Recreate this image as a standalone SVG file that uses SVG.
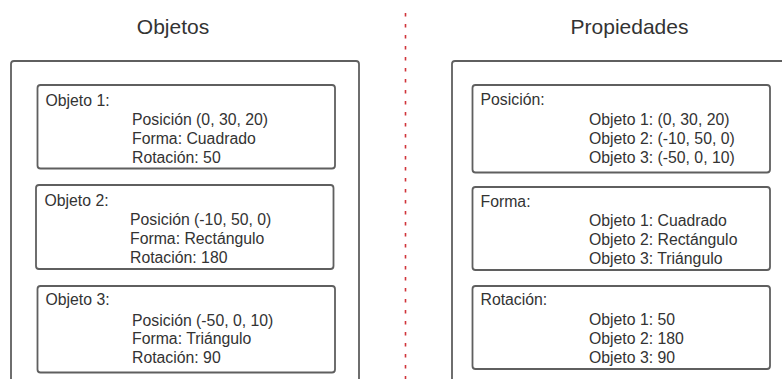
<svg xmlns="http://www.w3.org/2000/svg" width="782" height="379" viewBox="0 0 782 379">
<style>
.box{fill:#fff;stroke:#5f5f5f;stroke-width:1.8}
.outer{fill:none;stroke:#5f5f5f;stroke-width:1.8}
text{font-family:"Liberation Sans",Arial,sans-serif;fill:#333}
.t{font-size:15.8px}
.h{font-size:21px}
.sep{stroke:#d0343a;stroke-width:1.6;stroke-dasharray:3.5 7.5;fill:none}
</style>
<rect width="782" height="379" fill="#fff"/>
<g id="separator"><line class="sep" x1="405.5" y1="13" x2="405.5" y2="379"/></g>
<g id="title-objetos"><text class="h" x="173" y="34" text-anchor="middle">Objetos</text></g>
<g id="title-propiedades"><text class="h" x="629.5" y="34" text-anchor="middle">Propiedades</text></g>
<g id="panel-objetos"><path class="outer" d="M11,395 L11,64 Q11,61 14,61 L356,61 Q359,61 359,64 L359,395"/></g>
<g id="panel-propiedades"><path class="outer" d="M452,395 L452,64 Q452,61 455,61 L790,61"/></g>
<g id="objeto1">
<rect class="box" x="37.5" y="85" width="297.5" height="83.5" rx="3"/>
<text class="t" x="45.5" y="105.5">Objeto 1:</text>
<text class="t" x="132" y="124.5">Posición (0, 30, 20)</text>
<text class="t" x="132" y="143.5">Forma: Cuadrado</text>
<text class="t" x="132" y="162.5">Rotación: 50</text>
</g>
<g id="objeto2">
<rect class="box" x="36" y="185" width="297.5" height="84" rx="3"/>
<text class="t" x="44.5" y="206">Objeto 2:</text>
<text class="t" x="130" y="224.5">Posición (-10, 50, 0)</text>
<text class="t" x="130" y="243.5">Forma: Rectángulo</text>
<text class="t" x="130" y="262.5">Rotación: 180</text>
</g>
<g id="objeto3">
<rect class="box" x="37.5" y="286" width="297.5" height="86.5" rx="3"/>
<text class="t" x="45.5" y="305">Objeto 3:</text>
<text class="t" x="132" y="325.5">Posición (-50, 0, 10)</text>
<text class="t" x="132" y="344">Forma: Triángulo</text>
<text class="t" x="132" y="362.5">Rotación: 90</text>
</g>
<g id="prop-posicion">
<rect class="box" x="472.5" y="85" width="297.5" height="87.5" rx="3"/>
<text class="t" x="480.5" y="104.5">Posición:</text>
<text class="t" x="589" y="124.5">Objeto 1: (0, 30, 20)</text>
<text class="t" x="589" y="143.5">Objeto 2: (-10, 50, 0)</text>
<text class="t" x="589" y="162.5">Objeto 3: (-50, 0, 10)</text>
</g>
<g id="prop-forma">
<rect class="box" x="472.5" y="187" width="297.5" height="83" rx="3"/>
<text class="t" x="480.5" y="206.5">Forma:</text>
<text class="t" x="589" y="226">Objeto 1: Cuadrado</text>
<text class="t" x="589" y="245">Objeto 2: Rectángulo</text>
<text class="t" x="589" y="264">Objeto 3: Triángulo</text>
</g>
<g id="prop-rotacion">
<rect class="box" x="472.5" y="286" width="297.5" height="83" rx="3"/>
<text class="t" x="480.5" y="304.5">Rotación:</text>
<text class="t" x="589" y="324.5">Objeto 1: 50</text>
<text class="t" x="589" y="343.5">Objeto 2: 180</text>
<text class="t" x="589" y="362.5">Objeto 3: 90</text>
</g>
<g id="connectors"></g>
</svg>
